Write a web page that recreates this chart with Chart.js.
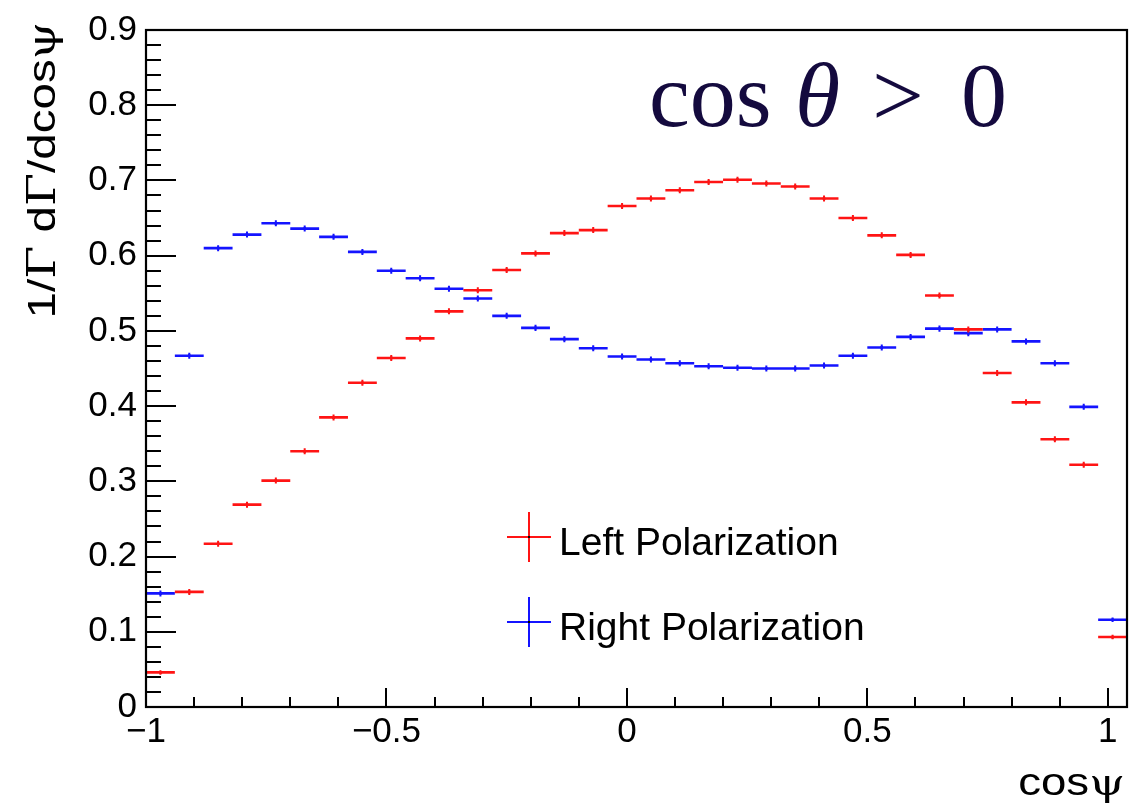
<!DOCTYPE html>
<html><head><meta charset="utf-8">
<script src="https://cdn.jsdelivr.net/npm/chart.js@4/dist/chart.umd.min.js"></script>
<style>
html,body{margin:0;padding:0;background:#fff;}
#wrap{position:relative;width:1143px;height:812px;overflow:hidden;background:#fff;}
canvas{position:absolute;left:0;top:0;}
.ann{position:absolute;font-family:"Liberation Serif","Times New Roman",serif;font-size:92px;line-height:1;color:#140a3e;white-space:nowrap;}
.leg{position:absolute;font-family:"Liberation Sans",Arial,sans-serif;font-size:39px;line-height:1;color:#000;white-space:nowrap;}
.bar{position:absolute;}
.atitle{position:absolute;font-family:"Liberation Sans",Arial,sans-serif;line-height:1;color:#000;white-space:nowrap;}
.g{font-family:"DejaVu Serif","Liberation Serif",serif;}
</style></head><body>
<div id="wrap">
<canvas id="c" width="1143" height="812"></canvas>
<span class="ann" style="left:649px;top:49px">cos</span>
<span class="ann" style="left:795px;top:49px;font-style:italic">θ</span>
<span class="ann" style="left:872px;top:49px">&gt;</span>
<span class="ann" style="left:961px;top:49px">0</span>
<div class="atitle" style="left:22px;top:322px;width:300px;font-size:39px;transform-origin:0 0;transform:rotate(-90deg);text-align:right;"><span style="display:inline-block;transform-origin:100% 50%;transform:scaleX(1.22)">1/<span class="g">Γ</span> d<span class="g">Γ</span>/dcos<span class="g">ψ</span></span></div>
<div class="atitle" style="right:18px;top:763px;font-size:38px;transform-origin:100% 50%;transform:scaleX(1.2);">cos<span class="g">ψ</span></div>
<div id="legend"></div>
</div>
<script>
// ---- data ----
const binCenters = [-0.97,-0.91,-0.85,-0.79,-0.73,-0.67,-0.61,-0.55,-0.49,-0.43,-0.37,-0.31,-0.25,-0.19,-0.13,-0.07,-0.01,0.05,0.11,0.17,0.23,0.29,0.35,0.41,0.47,0.53,0.59,0.65,0.71,0.77,0.83,0.89,0.95,1.01];
const binHalfWidth = 0.03;
const leftPol  = [0.046,0.153,0.217,0.269,0.301,0.340,0.385,0.431,0.464,0.490,0.526,0.554,0.581,0.603,0.630,0.634,0.666,0.676,0.687,0.698,0.701,0.696,0.692,0.676,0.650,0.627,0.601,0.547,0.502,0.444,0.405,0.356,0.322,0.093];
const rightPol = [0.151,0.467,0.610,0.628,0.643,0.636,0.625,0.605,0.580,0.570,0.556,0.543,0.520,0.504,0.489,0.477,0.466,0.462,0.457,0.453,0.451,0.450,0.450,0.454,0.467,0.478,0.492,0.503,0.497,0.502,0.486,0.457,0.399,0.116];
const leftErr  = [0.003,0.004,0.004,0.004,0.004,0.004,0.004,0.004,0.004,0.004,0.004,0.004,0.004,0.004,0.004,0.004,0.004,0.004,0.004,0.004,0.004,0.004,0.004,0.004,0.004,0.004,0.004,0.004,0.004,0.004,0.004,0.004,0.004,0.003];
const rightErr = [0.004,0.004,0.004,0.004,0.004,0.004,0.004,0.004,0.004,0.004,0.004,0.004,0.004,0.004,0.004,0.004,0.004,0.004,0.004,0.004,0.004,0.004,0.004,0.004,0.004,0.004,0.004,0.004,0.004,0.004,0.004,0.004,0.004,0.003];
const seriesNames = ['Left Polarization','Right Polarization'];
const xTickValues = [-1,-0.5,0,0.5,1];
const xTickLabels = ['\u22121','\u22120.5','0','0.5','1'];
const yTickValues = [0,0.1,0.2,0.3,0.4,0.5,0.6,0.7,0.8,0.9];
const yTickLabels = ['0','0.1','0.2','0.3','0.4','0.5','0.6','0.7','0.8','0.9'];

const RED = 'rgb(255,20,20)';
const BLUE = 'rgb(20,20,255)';

function hSegs(vals){ const out=[]; binCenters.forEach((c,i)=>{ out.push({x:c-binHalfWidth,y:vals[i]},{x:c+binHalfWidth,y:vals[i]},{x:c+binHalfWidth,y:null}); }); return out; }
function vSegs(vals,errs){ const out=[]; binCenters.forEach((c,i)=>{ out.push({x:c,y:vals[i]-errs[i]},{x:c,y:vals[i]+errs[i]},{x:c,y:null}); }); return out; }
function pts(vals){ return binCenters.map((c,i)=>({x:c,y:vals[i]})); }

const segStyle = {pointRadius:0, spanGaps:false, tension:0, fill:false};

const frameTicks = {
  id:'frameTicks',
  afterDatasetsDraw(chart){
    const {ctx, chartArea:a, scales:{x,y}} = chart;
    ctx.save();
    ctx.strokeStyle='#000';
    ctx.lineWidth=2;
    ctx.beginPath();
    for(let i=0;i<=45;i++){ const p=Math.round(y.getPixelForValue(i*0.02)); const len=(i%5===0)?30:15; ctx.moveTo(a.left,p); ctx.lineTo(a.left+len,p); }
    for(let i=-10;i<=10;i++){ const p=Math.round(x.getPixelForValue(i*0.1)); const len=(i%5===0)?19:10; ctx.moveTo(p,a.bottom); ctx.lineTo(p,a.bottom-len); }
    ctx.stroke();
    ctx.lineWidth=2.2;
    ctx.strokeRect(a.left,a.top,a.right-a.left,a.bottom-a.top);
    ctx.restore();
  }
};

const fontFam = '"Liberation Sans", Arial, sans-serif';
new Chart(document.getElementById('c'), {
  type:'line',
  data:{datasets:[
    Object.assign({label:seriesNames[0], data:hSegs(leftPol), borderColor:RED, borderWidth:2.6}, segStyle),
    Object.assign({data:vSegs(leftPol,leftErr), borderColor:RED, borderWidth:2}, segStyle),
    Object.assign({label:seriesNames[1], data:hSegs(rightPol), borderColor:BLUE, borderWidth:2.6}, segStyle),
    Object.assign({data:vSegs(rightPol,rightErr), borderColor:BLUE, borderWidth:2}, segStyle),
    {type:'scatter', data:pts(leftPol), pointRadius:1.6, backgroundColor:'#111', borderWidth:0},
    {type:'scatter', data:pts(rightPol), pointRadius:1.6, backgroundColor:'#111', borderWidth:0}
  ]},
  options:{
    responsive:false, animation:false, devicePixelRatio:1,
    layout:{padding:{top:24,right:16,left:0,bottom:0}},
    plugins:{legend:{display:false}, tooltip:{enabled:false}},
    scales:{
      x:{type:'linear', min:-1, max:1.04,
         grid:{display:false, drawTicks:false}, border:{display:false},
         afterBuildTicks:s=>{ s.ticks = xTickValues.map(v=>({value:v})); },
         afterFit:s=>{ s.height = 105; },
         ticks:{autoSkip:false, maxRotation:0, minRotation:0, padding:4, color:'#000', font:{family:fontFam, size:35},
                callback:(v,i)=>xTickLabels[i]},
         title:{display:false}
      },
      y:{type:'linear', min:0, max:0.9,
         grid:{display:false, drawTicks:false}, border:{display:false},
         afterBuildTicks:s=>{ s.ticks = yTickValues.map(v=>({value:v})); },
         afterFit:s=>{ s.width = 146; },
         ticks:{autoSkip:false, padding:9, color:'#000', font:{family:fontFam, size:35},
                callback:(v,i)=>yTickLabels[i]},
         title:{display:false}
      }
    }
  },
  plugins:[frameTicks]
});

// legend (HTML overlay)
const legendItems = [
  {name:seriesNames[0], color:RED, cy:537, top:522},
  {name:seriesNames[1], color:BLUE, cy:622, top:607}
];
const lg = document.getElementById('legend');
legendItems.forEach(it=>{
  lg.insertAdjacentHTML('beforeend',
    `<div class="bar" style="left:507px;top:${it.cy-1}px;width:44px;height:2px;background:${it.color}"></div>`+
    `<div class="bar" style="left:528px;top:${it.cy-25}px;width:2px;height:50px;background:${it.color}"></div>`+
    `<div class="bar" style="left:528px;top:${it.cy-1}px;width:2px;height:2px;background:#000"></div>`+
    `<span class="leg" style="left:559px;top:${it.top}px">${it.name}</span>`);
});
</script>
</body></html>
